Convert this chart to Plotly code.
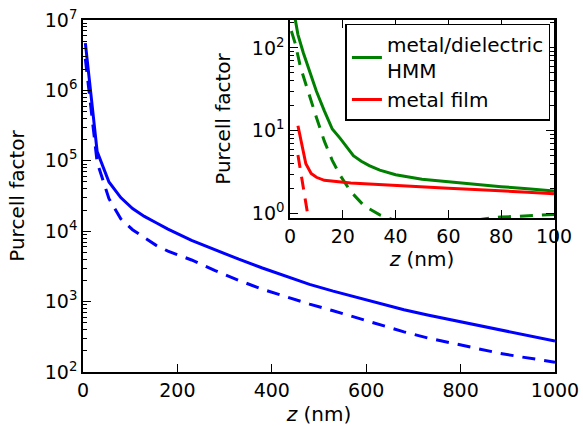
import plotly.graph_objects as go

# ---------------- data ----------------
# main plot: z (nm) and Purcell factor
z_main = [5, 30, 55, 80, 105, 130, 155, 180, 230, 280, 330, 380, 430, 480, 530,
          580, 630, 680, 730, 780, 830, 880, 930, 980, 1000]
p_main_solid = [4.7e6, 1.35e5, 5.0e4, 3.0e4, 2.1e4, 1.62e4, 1.32e4, 1.07e4, 7.4e3,
                5.4e3, 4.0e3, 3.0e3, 2.3e3, 1.76e3, 1.41e3, 1.15e3, 933, 767, 645,
                550, 468, 400, 347, 292, 275]
p_main_dash = [2.8e6, 9.5e4, 2.9e4, 1.5e4, 1.05e4, 8.1e3, 6.3e3, 5.2e3, 3.9e3,
               2.75e3, 2.0e3, 1.5e3, 1.17e3, 922, 741, 590, 468, 372, 305, 257,
               219, 186, 163, 144, 138]

# inset: metal/dielectric HMM (green)
z_hmm_solid = [1, 3, 5, 7, 10, 13, 16, 19, 24, 27, 30, 34, 40, 50, 60, 70, 80, 90, 100]
p_hmm_solid = [330, 145, 88, 58, 30, 17.4, 10.5, 8.1, 5.0, 4.3, 3.8, 3.35, 2.95, 2.6,
               2.42, 2.28, 2.12, 2.0, 1.88]
z_hmm_dash = [0.5, 2, 4, 7, 10, 13, 16, 19, 23, 28, 34, 40, 50, 60, 70, 76, 80, 87, 95, 100]
p_hmm_dash = [160, 112, 58, 28.5, 14.5, 7.5, 4.4, 2.9, 1.85, 1.25, 0.97, 0.82, 0.72,
              0.74, 0.83, 0.89, 0.91, 0.94, 0.965, 0.98]

# inset: metal film (red)
z_film_solid = [3, 6, 8, 10, 13, 18, 23, 30, 40, 50, 60, 70, 80, 90, 100]
p_film_solid = [11.5, 4.0, 3.05, 2.75, 2.53, 2.42, 2.35, 2.28, 2.18, 2.10, 2.03, 1.96,
                1.90, 1.82, 1.74]
z_film_dash = [3, 4, 5, 6, 7, 8]
p_film_dash = [5.1, 3.2, 2.0, 1.3, 0.85, 0.55]

legend_names = ["metal/dielectric<br>HMM", "metal film"]

main_xticks = [0, 200, 400, 600, 800, 1000]
main_yticks = [1e2, 1e3, 1e4, 1e5, 1e6, 1e7]
main_yticktext = ["10<sup>2</sup>", "10<sup>3</sup>", "10<sup>4</sup>",
                  "10<sup>5</sup>", "10<sup>6</sup>", "10<sup>7</sup>"]
inset_xticks = [0, 20, 40, 60, 80, 100]
inset_yticks = [1, 10, 100]
inset_yticktext = ["10<sup>0</sup>", "10<sup>1</sup>", "10<sup>2</sup>"]

# ---------------- styling ----------------
FONT = "DejaVu Sans"
BLUE, GREEN, RED = "#0000ff", "#008000", "#ff0000"
LW = 3
DASH = "13px,9px"

main_minor = [k * 10 ** e for e in range(2, 7) for k in range(2, 10)]
right_major = [1e2, 1e3, 1e4]
right_minor = [k * 10 ** e for e in range(2, 4) for k in range(2, 10)]
inset_minor = [k * 10 ** e for e in range(0, 2) for k in range(2, 10)] + [200]

fig = go.Figure()

fig.add_trace(go.Scatter(x=z_main, y=p_main_solid, mode="lines",
                         line=dict(color=BLUE, width=LW), showlegend=False,
                         xaxis="x", yaxis="y"))
fig.add_trace(go.Scatter(x=z_main, y=p_main_dash, mode="lines",
                         line=dict(color=BLUE, width=LW, dash=DASH), showlegend=False,
                         xaxis="x", yaxis="y"))

fig.add_trace(go.Scatter(x=z_hmm_solid, y=p_hmm_solid, mode="lines",
                         name=legend_names[0],
                         line=dict(color=GREEN, width=LW), xaxis="x2", yaxis="y2"))
fig.add_trace(go.Scatter(x=z_hmm_dash, y=p_hmm_dash, mode="lines",
                         line=dict(color=GREEN, width=LW, dash=DASH), showlegend=False,
                         xaxis="x2", yaxis="y2"))
fig.add_trace(go.Scatter(x=z_film_solid, y=p_film_solid, mode="lines",
                         name=legend_names[1],
                         line=dict(color=RED, width=LW), xaxis="x2", yaxis="y2"))
fig.add_trace(go.Scatter(x=z_film_dash, y=p_film_dash, mode="lines",
                         line=dict(color=RED, width=LW, dash=DASH), showlegend=False,
                         xaxis="x2", yaxis="y2"))

tickfont = dict(family=FONT, size=19, color="black")
titlefont = dict(family=FONT, size=20, color="black")

common = dict(showgrid=False, zeroline=False, linecolor="black", linewidth=1.5,
              ticks="inside", ticklen=8, tickwidth=1, tickcolor="black",
              tickfont=tickfont, automargin=False)

fig.update_layout(
    width=583, height=426,
    margin=dict(l=83, r=28, t=20, b=54, autoexpand=False),
    paper_bgcolor="white", plot_bgcolor="white",
    font=dict(family=FONT, color="black"),
    xaxis=dict(domain=[0, 1], range=[0, 1000], tickmode="array", tickvals=main_xticks,
               mirror=True, anchor="y",
               title=dict(text="<i>z</i> (nm)", font=titlefont, standoff=8), **common),
    yaxis=dict(domain=[0, 1], type="log", range=[2, 7], tickmode="array",
               tickvals=main_yticks, ticktext=main_yticktext, mirror=True, anchor="x",
               minor=dict(tickmode="array", tickvals=main_minor, ticks="inside",
                          ticklen=4, tickcolor="black", showgrid=False),
               title=dict(text="Purcell factor", font=titlefont, standoff=15), **common),
    xaxis3=dict(overlaying="x", side="top", anchor="y", range=[0, 1000],
                tickmode="array", tickvals=[0, 200, 400], showticklabels=False,
                showline=False, showgrid=False, zeroline=False, ticks="inside",
                ticklen=8, tickwidth=1, tickcolor="black", automargin=False),
    yaxis3=dict(overlaying="y", side="right", anchor="x", type="log", range=[2, 7],
                tickmode="array", tickvals=right_major, showticklabels=False,
                showline=False, showgrid=False, zeroline=False, ticks="inside",
                ticklen=8, tickwidth=1, tickcolor="black", automargin=False,
                minor=dict(tickmode="array", tickvals=right_minor, ticks="inside",
                           ticklen=4, tickcolor="black", showgrid=False)),
    xaxis2=dict(domain=[0.4386, 0.9979], range=[0, 100], tickmode="array",
                tickvals=inset_xticks, mirror="ticks", anchor="y2",
                title=dict(text="<i>z</i> (nm)", font=titlefont, standoff=4), **common),
    yaxis2=dict(domain=[0.4375, 1.0], type="log", range=[-0.052, 2.337],
                tickmode="array", tickvals=inset_yticks, ticktext=inset_yticktext,
                mirror="ticks", anchor="x2",
                minor=dict(tickmode="array", tickvals=inset_minor, ticks="inside",
                           ticklen=4, tickcolor="black", showgrid=False),
                title=dict(text="Purcell factor", font=titlefont, standoff=16), **common),
    legend=dict(x=0.556, y=0.99, xanchor="left", yanchor="top",
                bgcolor="white", bordercolor="black", borderwidth=1.5,
                font=dict(family=FONT, size=20, color="black"),
                tracegroupgap=0, itemwidth=30, valign="middle"),
)

fig.write_html("out.html",
               config={"displayModeBar": False},
               post_script="document.body.style.margin='0';"
                           "document.documentElement.style.overflow='hidden';")
